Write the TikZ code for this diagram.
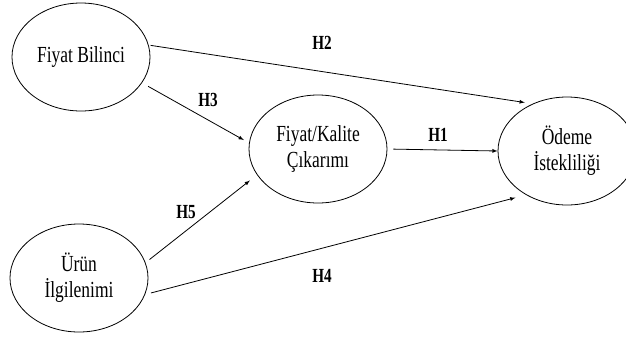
\documentclass[tikz,border=0pt]{standalone}
\usepackage{fontspec}
\setmainfont{Liberation Serif}[FakeStretch=0.76]
\usepackage{tikz}
\usetikzlibrary{arrows}
\usetikzlibrary{shapes}
\usetikzlibrary{positioning}
\tikzset{
    construct/.style={draw=black, ellipse, line width=0.8pt, minimum width=138pt,
        minimum height=108pt, inner sep=0pt, align=center,
        font=\fontsize{23}{26}\selectfont},
    path/.style={draw=black, line width=0.8pt, -latex},
    hyp/.style={font=\fontsize{20}{22}\selectfont\bfseries, inner sep=0pt},
}
\begin{document}
\begin{tikzpicture}[x=1pt, y=-1pt]
	\useasboundingbox (0,0) rectangle (626,338);
	\node[construct] (bilinc) at (81,57) {Fiyat Bilinci};
	\node[construct] (ilgi) at (79,278) {Ürün\\İlgilenimi};
	\node[construct] (cikar) at (318,149) {Fiyat/Kalite\\Çıkarımı};
	\node[construct] (odeme) at (567,151) {Ödeme\\İstekliliği};
	\draw[path, shorten <=2pt, shorten >=8pt] (bilinc.10)--(odeme.126);
	\draw[path, shorten <=7pt, shorten >=6pt] (bilinc.-23)--(cikar.175);
	\draw[path, shorten <=6pt] (cikar.east)--(odeme.west);
	\draw[path, shorten <=5pt, shorten >=9pt] (ilgi.13)--(cikar.-157);
	\draw[path, shorten <=6pt, shorten >=11pt] (ilgi.-14)--(odeme.-133);
	\node[hyp] (h2) at (322,43) {H2};
	\node[hyp] (h3) at (208,100) {H3};
	\node[hyp] (h1) at (438,135) {H1};
	\node[hyp] (h5) at (186,212) {H5};
	\node[hyp] (h4) at (322,276) {H4};
\end{tikzpicture}
\end{document}
